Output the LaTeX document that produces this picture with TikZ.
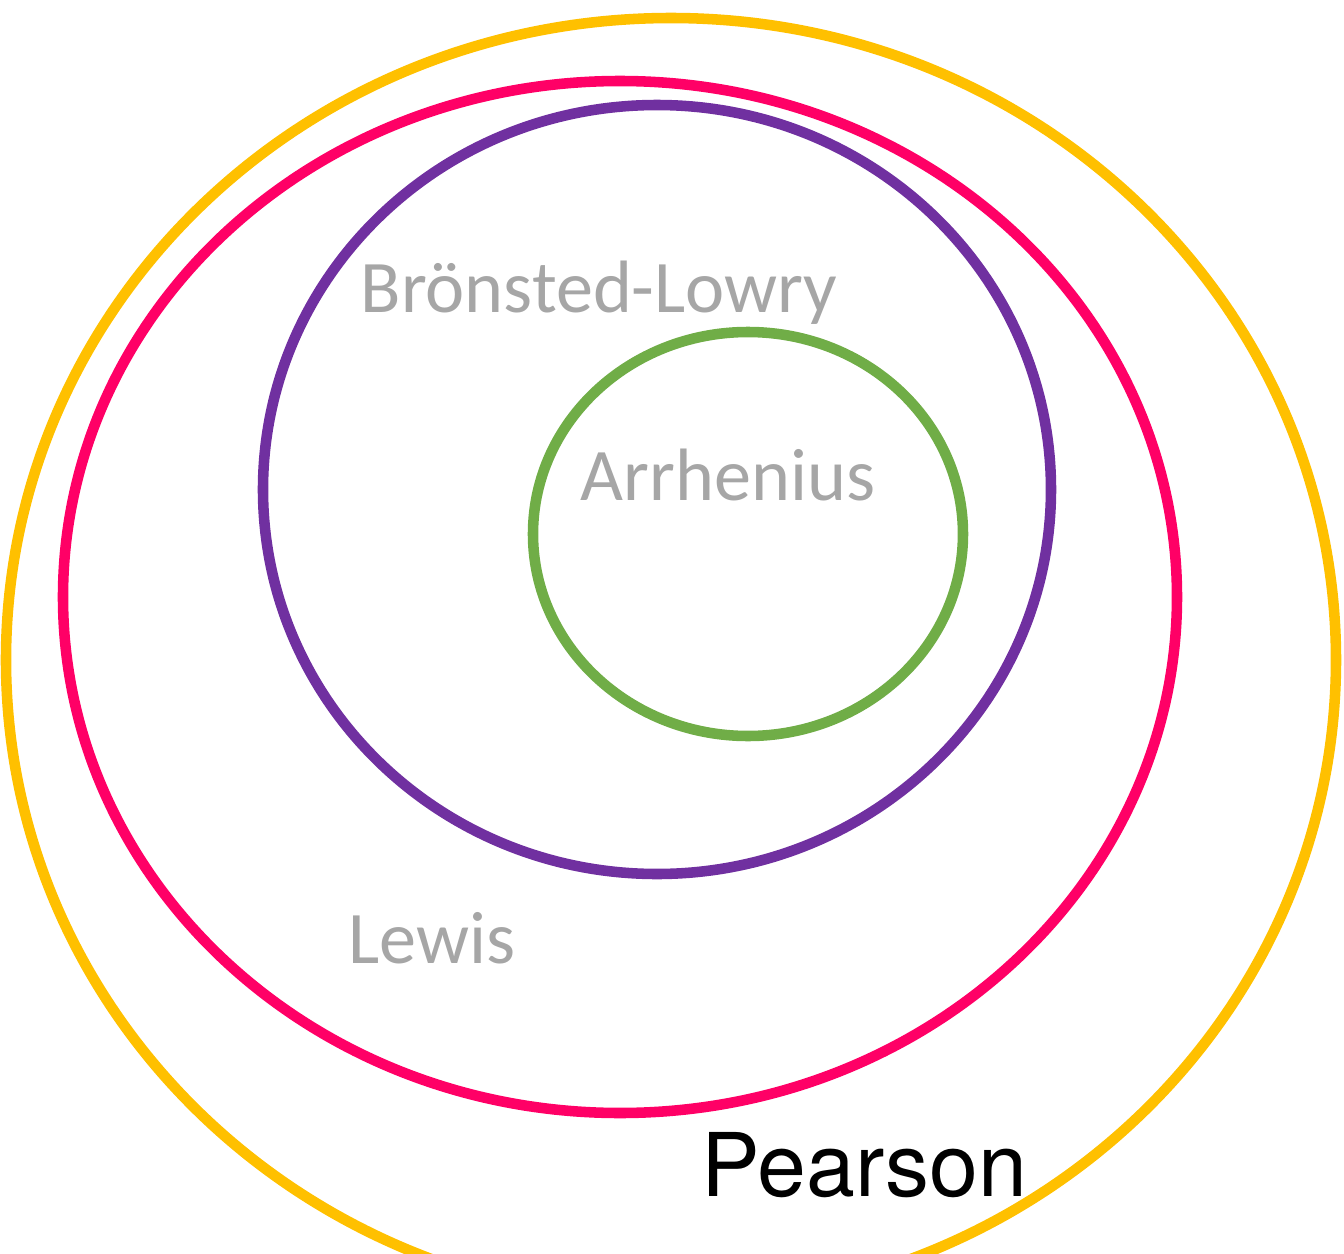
\documentclass[tikz,border=0pt]{standalone}
\usepackage{fontspec}
\setmainfont{Carlito}
\newfontfamily\brandfont{TeX Gyre Heros}
\usepackage{xcolor}
\usetikzlibrary{positioning}

\definecolor{pearsonyellow}{HTML}{FFC000}
\definecolor{lewispink}{HTML}{FF0066}
\definecolor{bronstedpurple}{HTML}{7030A0}
\definecolor{arrheniusgreen}{HTML}{70AD47}
\definecolor{labelgray}{HTML}{A6A6A6}

\begin{document}
\begin{tikzpicture}[
  x=0.01cm, y=-0.01cm,
  ring/.style={line width=3pt},
  theory/.style={anchor=base west, inner sep=0pt, text=labelgray, font=\fontsize{21.1}{25}\selectfont}
]
\useasboundingbox (0,0) rectangle (1344,1254);
\clip (0,0) rectangle (1344,1254);

% nested definitions
\draw[ring, pearsonyellow] (671,660) ellipse [x radius=665, y radius=642];
\draw[ring, lewispink] (620,597) ellipse [x radius=557, y radius=516];
\draw[ring, bronstedpurple] (657,489.5) ellipse [x radius=394, y radius=384.5];
\draw[ring, arrheniusgreen] (748,534) ellipse [x radius=215, y radius=202];

\node[theory] (bronsted) at (360,312) {Brönsted-Lowry};
\node[theory] (arrhenius) at (580,500) {Arrhenius};
\node[theory] (lewis) at (348,963) {Lewis};
\node[anchor=base west, inner sep=0pt, font=\brandfont\fontsize{25}{30}\selectfont] (pearson) at (701,1196) {Pearson};
\end{tikzpicture}
\end{document}
